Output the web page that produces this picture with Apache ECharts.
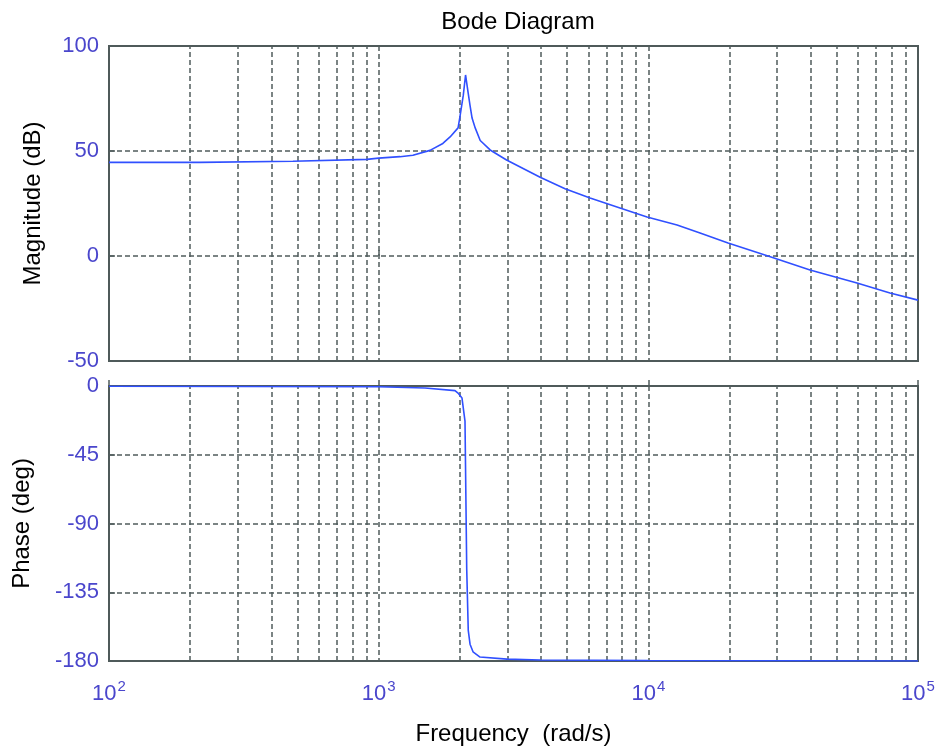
<!DOCTYPE html>
<html>
<head>
<meta charset="utf-8">
<title>Bode Diagram</title>
<script src="https://cdn.jsdelivr.net/npm/echarts@6.0.0/dist/echarts.min.js"></script>
<style>
  html, body { margin: 0; padding: 0; background: #fff; }
  #container { width: 938px; height: 750px; }
</style>
</head>
<body>
<div id="container"></div>
<script>
// magnitude curve (rad/s, dB)
var magFreq = [100, 217, 481, 905, 1000, 1200, 1340, 1550, 1730, 1840, 1970, 2000, 2060, 2100, 2145, 2180, 2220, 2280, 2380, 2590, 2980, 3970, 4910, 6080, 7850, 9890, 12780, 15550, 19750, 27780, 39770, 59400, 78720, 100000];
var magDb = [44.6, 44.6, 45.1, 46.0, 46.6, 47.3, 48.0, 50.3, 53.6, 56.7, 61.0, 66.0, 76.6, 86.2, 78.0, 72.0, 65.7, 61.0, 55.0, 50.5, 45.7, 37.5, 32.0, 27.6, 22.9, 18.6, 14.8, 11.0, 6.2, 0.0, -6.7, -12.9, -17.6, -21.0];

// phase curve (rad/s, deg)
var phaseFreq = [100, 1000, 1485, 1919, 1969, 2037, 2090, 2121, 2149, 2182, 2238, 2376, 2991, 3966, 10000, 100000];
var phaseDeg = [-0.2, -0.5, -1.3, -3.0, -4.6, -7.9, -23, -120, -160, -169, -174, -177.4, -178.8, -179.3, -179.7, -180];

// minor log grid lines (2..9 in each decade)
var minorGrid = [200, 300, 400, 500, 600, 700, 800, 900, 2000, 3000, 4000, 5000, 6000, 7000, 8000, 9000, 20000, 30000, 40000, 50000, 60000, 70000, 80000, 90000];
var magTicks = [-50, 0, 50, 100];
var phaseTicks = [-180, -135, -90, -45, 0];
var xDecades = { 100: '2', 1000: '3', 10000: '4', 100000: '5' };

var page = {
    ele: {
        box: document.getElementById('container')
    },
    gridColor: '#505c5c',
    labelColor: '#4a46cc',
    lineColor: '#3050ff',
    init: function () {
        this.chart = echarts.init(this.ele.box, null, { renderer: 'canvas' });
        this.chart.setOption(this.buildOption());
    },
    pairs: function (xs, ys) {
        var arr = [];
        for (var i = 0; i < xs.length; i++) {
            arr.push([xs[i], ys[i]]);
        }
        return arr;
    },
    xAxis: function (idx, showLabel) {
        var that = this;
        return {
            type: 'log',
            logBase: 10,
            gridIndex: idx,
            min: 100,
            max: 100000,
            axisLine: { show: false },
            axisTick: { show: true, inside: true, length: 6, lineStyle: { color: that.gridColor, width: 1.5 } },
            splitLine: {
                show: true,
                showMinLine: false,
                showMaxLine: false,
                lineStyle: { color: that.gridColor, type: [5, 3], width: 1.5 }
            },
            axisLabel: {
                show: showLabel,
                margin: 18,
                formatter: function (v) {
                    return '{b|10}{s|' + (xDecades[Math.round(v)] || '') + '}';
                },
                rich: {
                    b: { fontSize: 22, color: that.labelColor, fontFamily: 'Liberation Sans, Arial' },
                    s: { fontSize: 15, color: that.labelColor, fontFamily: 'Liberation Sans, Arial', padding: [0, 0, 14, 1] }
                }
            },
            name: showLabel ? 'Frequency  (rad/s)' : '',
            nameLocation: 'middle',
            nameGap: 61,
            nameTextStyle: { fontSize: 24, color: '#000', fontFamily: 'Liberation Sans, Arial' }
        };
    },
    yAxis: function (idx, ticks, name, gap) {
        var that = this;
        return {
            type: 'value',
            gridIndex: idx,
            min: ticks[0],
            max: ticks[ticks.length - 1],
            interval: ticks[1] - ticks[0],
            axisLine: { show: false },
            axisTick: { show: true, inside: true, length: 6, lineStyle: { color: that.gridColor, width: 1.5 } },
            splitLine: {
                show: true,
                showMinLine: false,
                showMaxLine: false,
                lineStyle: { color: that.gridColor, type: [5, 3], width: 1.5 }
            },
            axisLabel: { fontSize: 22, color: that.labelColor, margin: 10, fontFamily: 'Liberation Sans, Arial' },
            name: name,
            nameLocation: 'middle',
            nameRotate: 90,
            nameGap: gap,
            nameTextStyle: { fontSize: 24, color: '#000', fontFamily: 'Liberation Sans, Arial' }
        };
    },
    //网格虚线 (minor decades)
    minorLines: function (idx) {
        var that = this;
        var list = [];
        for (var i = 0; i < minorGrid.length; i++) {
            list.push({ xAxis: minorGrid[i] });
        }
        return {
            type: 'line',
            xAxisIndex: idx,
            yAxisIndex: idx,
            data: [],
            z: 1,
            silent: true,
            markLine: {
                silent: true,
                symbol: ['none', 'none'],
                label: { show: false },
                animation: false,
                lineStyle: { color: that.gridColor, type: [5, 3], width: 1.5 },
                data: list
            }
        };
    },
    buildOption: function () {
        var that = this;
        var gridBox = { show: true, borderColor: '#4f5a5a', borderWidth: 2, backgroundColor: '#fff', containLabel: false };
        return {
            animation: false,
            backgroundColor: '#fff',
            title: {
                text: 'Bode Diagram',
                left: 513,
                textAlign: 'center',
                top: 5,
                textStyle: { fontSize: 24, fontWeight: 'normal', color: '#000', fontFamily: 'Liberation Sans, Arial' }
            },
            grid: [
                Object.assign({ left: 109, top: 46, width: 809, height: 315 }, gridBox),
                Object.assign({ left: 109, top: 386, width: 809, height: 275 }, gridBox)
            ],
            xAxis: [that.xAxis(0, false), that.xAxis(1, true)],
            yAxis: [
                that.yAxis(0, magTicks, 'Magnitude (dB)', 64),
                that.yAxis(1, phaseTicks, 'Phase (deg)', 75)
            ],
            series: [
                that.minorLines(0),
                that.minorLines(1),
                {
                    type: 'line',
                    xAxisIndex: 0,
                    yAxisIndex: 0,
                    data: that.pairs(magFreq, magDb),
                    showSymbol: false,
                    smooth: false,
                    z: 5,
                    lineStyle: { color: that.lineColor, width: 1.6 }
                },
                {
                    type: 'line',
                    xAxisIndex: 1,
                    yAxisIndex: 1,
                    data: that.pairs(phaseFreq, phaseDeg),
                    showSymbol: false,
                    smooth: false,
                    z: 5,
                    lineStyle: { color: that.lineColor, width: 1.6 }
                }
            ]
        };
    }
};

page.init();
</script>
</body>
</html>
